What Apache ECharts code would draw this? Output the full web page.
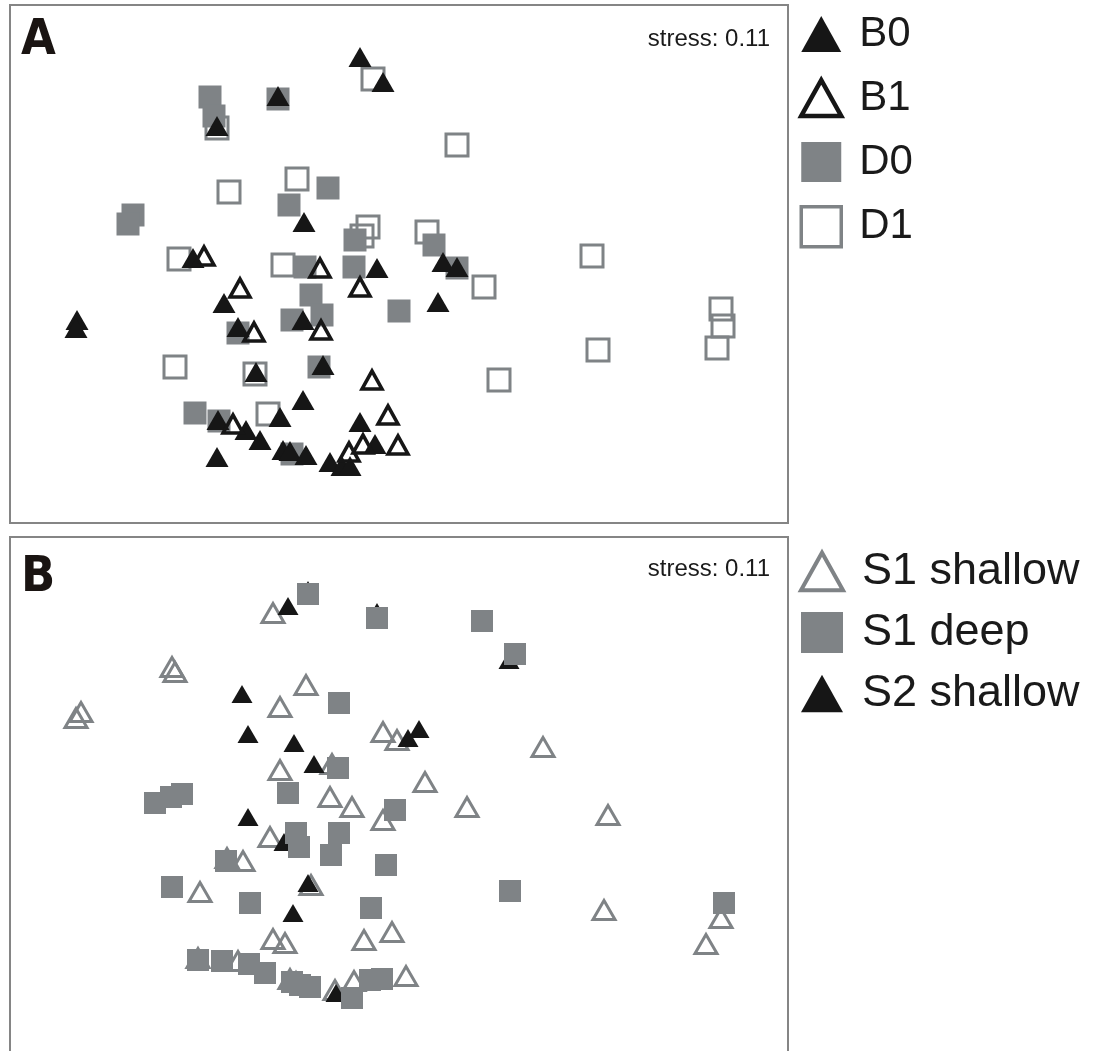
<!DOCTYPE html>
<html>
<head>
<meta charset="utf-8">
<title>NMDS ordination</title>
<script src="https://cdn.jsdelivr.net/npm/echarts@6/dist/echarts.min.js"></script>
<style>
  html, body { margin: 0; padding: 0; background: #ffffff; }
  #chart { width: 1097px; height: 1051px; }
</style>
</head>
<body>
<div id="chart"></div>
<script>
// ---- Panel A: ordination scores (NMDS1, NMDS2) per group ----
const b0 = [
  [-0.39, 2.07], [-0.16, 1.82], [-1.82, 1.38], [-1.21, 1.68], [-0.95, 0.42],
  [-2.06, 0.06], [0.44, 0.02], [0.58, -0.03], [-0.22, -0.04], [-1.75, -0.39],
  [-0.96, -0.56], [0.39, -0.38], [-3.22, -0.56], [-3.23, -0.64], [-1.61, -0.63],
  [-1.43, -1.08], [-0.76, -1.01], [-0.96, -1.36], [-1.81, -1.56], [-1.53, -1.66],
  [-1.19, -1.53], [-1.39, -1.76], [-1.82, -1.93], [-1.16, -1.86], [-1.09, -1.87],
  [-0.93, -1.91], [-0.69, -1.98], [-0.57, -2.02], [-0.49, -2.02], [-0.39, -1.58],
  [-0.24, -1.80]
];
const b1 = [
  [-1.95, 0.08], [-0.79, -0.04], [-0.39, -0.23], [-1.59, -0.24], [-1.45, -0.68],
  [-0.78, -0.66], [-0.27, -1.16], [-1.66, -1.60], [-0.11, -1.51], [-0.01, -1.81],
  [-0.36, -1.80], [-0.50, -1.88]
];
const d0 = [
  [-1.89, 1.67], [-1.85, 1.48], [-1.21, 1.65], [-0.71, 0.76], [-1.10, 0.59],
  [-2.66, 0.49], [-2.71, 0.40], [-0.44, 0.24], [0.35, 0.19], [0.58, -0.04],
  [-0.94, -0.03], [-0.45, -0.03], [-0.88, -0.31], [-1.07, -0.56], [-0.77, -0.51],
  [0.00, -0.47], [-1.61, -0.69], [-0.80, -1.03], [-2.04, -1.49], [-1.80, -1.57],
  [-1.07, -1.90]
];
const d1 = [
  [-0.26, 1.85], [-1.82, 1.36], [-1.70, 0.72], [-1.02, 0.85], [-0.31, 0.37],
  [-0.37, 0.28], [0.28, 0.32], [0.58, 1.19], [-2.20, 0.05], [-1.16, -0.01],
  [0.85, -0.23], [1.93, 0.08], [-2.24, -1.03], [-1.44, -1.10], [-1.31, -1.50],
  [3.22, -0.45], [3.24, -0.62], [3.18, -0.84], [1.99, -0.86], [1.00, -1.16]
];

// ---- Panel B: same ordination, grouped by site and depth ----
const s1Shallow = [
  [-1.26, 1.83], [-2.27, 1.29], [-2.24, 1.24], [-3.23, 0.78], [-3.18, 0.84],
  [-0.93, 1.11], [-1.19, 0.89], [-0.16, 0.64], [-0.02, 0.56], [-1.19, 0.26],
  [-0.67, 0.32], [0.26, 0.14], [-0.69, -0.01], [-0.47, -0.11], [-0.16, -0.24],
  [-1.29, -0.41], [-1.56, -0.65], [-1.72, -0.62], [-1.99, -0.96], [-0.88, -0.89],
  [-1.26, -1.43], [-1.14, -1.47], [-0.35, -1.44], [-0.07, -1.36], [0.07, -1.80],
  [0.68, -0.11], [2.09, -0.19], [2.05, -1.14], [3.22, -1.22], [3.07, -1.48],
  [1.44, 0.49], [-2.01, -1.62], [-1.61, -1.65], [-1.09, -1.83], [-1.03, -1.86],
  [-0.64, -1.94], [-0.45, -1.85]
];
const s1Deep = [
  [-0.91, 2.02], [-0.22, 1.78], [0.83, 1.75], [1.16, 1.42], [-0.60, 0.93],
  [-0.61, 0.28], [-1.11, 0.03], [-2.44, -0.07], [-2.28, -0.01], [-2.17, 0.02],
  [-0.04, -0.14], [-1.03, -0.37], [-1.00, -0.51], [-0.60, -0.37], [-0.68, -0.59],
  [-0.13, -0.69], [-1.73, -0.65], [-2.27, -0.91], [-1.49, -1.07], [-0.28, -1.12],
  [1.11, -0.95], [3.25, -1.07], [-2.01, -1.64], [-1.77, -1.65], [-1.50, -1.68],
  [-1.34, -1.77], [-1.07, -1.86], [-0.99, -1.89], [-0.89, -1.91], [-0.47, -2.02],
  [-0.29, -1.84], [-0.17, -1.83]
];
const s2Shallow = [
  [-1.11, 1.90], [-0.91, 2.06], [-0.22, 1.84], [-1.57, 1.02], [-1.51, 0.62],
  [-1.05, 0.53], [-0.85, 0.32], [0.09, 0.58], [0.20, 0.67], [1.10, 1.36],
  [-1.51, -0.21], [-1.15, -0.46], [-0.91, -0.87], [-1.06, -1.17], [-0.63, -1.97]
];

// ---- Text ----
const panelLabels = ['A', 'B'];
const stressLabel = 'stress: 0.11';
const legendA = ['B0', 'B1', 'D0', 'D1'];
const legendB = ['S1 shallow', 'S1 deep', 'S2 shallow'];

// ---- Styling ----
const BLACK = '#161616';
const GREY = '#7f8386';
const FRAME = '#858585';
const NONE = 'rgba(255,255,255,0)';
const FONT = "'Liberation Sans', Arial, Helvetica, sans-serif";
const LABEL_FONT = "'Liberation Sans Narrow', 'DejaVu Sans Condensed', " + FONT;
const TRI_ICON = 'path://M0,34L19,0L38,34Z';

const chart = echarts.init(document.getElementById('chart'), null, { renderer: 'canvas' });

function hiddenAxis(min, max, gridIndex) {
  return {
    type: 'value', gridIndex, min, max,
    show: false, splitLine: { show: false }
  };
}

function scatter(name, data, idx, symbol, size, fill, stroke, lw, z) {
  return {
    name, type: 'scatter', data,
    xAxisIndex: idx, yAxisIndex: idx,
    symbol, symbolSize: size,
    itemStyle: { color: fill, borderColor: stroke, borderWidth: lw, borderJoin: 'miter', opacity: 1 },
    emphasis: { disabled: true },
    silent: true, z
  };
}

const option = {
  animation: false,
  backgroundColor: '#ffffff',
  grid: [
    { left: 10, top: 5, width: 778, height: 518, outerBoundsMode: 'none',
      show: true, borderColor: FRAME, borderWidth: 2, backgroundColor: 'transparent' },
    // lower panel runs past the bottom edge of the page
    { left: 10, top: 537, width: 778, height: 518, outerBoundsMode: 'none',
      show: true, borderColor: FRAME, borderWidth: 2, backgroundColor: 'transparent' }
  ],
  xAxis: [hiddenAxis(-3.89, 3.89, 0), hiddenAxis(-3.89, 3.89, 1)],
  yAxis: [hiddenAxis(-2.59, 2.59, 0), hiddenAxis(-2.59, 2.59, 1)],
  title: [
    { text: panelLabels[0], left: 21, top: 16, padding: 0,
      textStyle: { fontFamily: LABEL_FONT, fontWeight: 'bold', fontSize: 50, lineHeight: 50, color: '#1a1412' } },
    { text: stressLabel, right: 327, top: 27, padding: 0,
      textStyle: { fontFamily: FONT, fontWeight: 'normal', fontSize: 24, lineHeight: 24, color: '#1a1a1a' } },
    { text: panelLabels[1], left: 21, top: 553, padding: 0,
      textStyle: { fontFamily: LABEL_FONT, fontWeight: 'bold', fontSize: 50, lineHeight: 50, color: '#1a1412' } },
    { text: stressLabel, right: 327, top: 557, padding: 0,
      textStyle: { fontFamily: FONT, fontWeight: 'normal', fontSize: 24, lineHeight: 24, color: '#1a1a1a' } }
  ],
  legend: [
    {
      orient: 'vertical', left: 799, top: 13, padding: 0,
      itemWidth: 40, itemHeight: 40, itemGap: 22,
      selectedMode: false,
      textStyle: { fontFamily: FONT, fontSize: 42, color: '#1a1a1a', padding: [0, 0, 0, 13] },
      data: [
        { name: legendA[0], icon: TRI_ICON, itemStyle: { color: BLACK, borderWidth: 0, opacity: 1 } },
        { name: legendA[1], icon: TRI_ICON, itemStyle: { color: NONE, borderColor: BLACK, borderWidth: 4.5, opacity: 1 } },
        { name: legendA[2], icon: 'rect', itemStyle: { color: GREY, borderWidth: 0, opacity: 1 } },
        { name: legendA[3], icon: 'rect', itemStyle: { color: NONE, borderColor: GREY, borderWidth: 3.5, opacity: 1 } }
      ]
    },
    {
      orient: 'vertical', left: 799, top: 549, padding: 0,
      itemWidth: 42, itemHeight: 41, itemGap: 16,
      selectedMode: false,
      textStyle: { fontFamily: FONT, fontSize: 45, color: '#1a1a1a', padding: [0, 0, 0, 14] },
      data: [
        { name: legendB[0], icon: TRI_ICON, itemStyle: { color: NONE, borderColor: GREY, borderWidth: 4, opacity: 1 } },
        { name: legendB[1], icon: 'rect', itemStyle: { color: GREY, borderWidth: 0, opacity: 1 } },
        { name: legendB[2], icon: TRI_ICON, itemStyle: { color: BLACK, borderWidth: 0, opacity: 1 } }
      ]
    }
  ],
  series: [
    // panel A, drawn back to front
    scatter(legendA[3], d1, 0, 'rect', 22, NONE, GREY, 3, 2),
    scatter(legendA[2], d0, 0, 'rect', 23, GREY, GREY, 0, 3),
    scatter(legendA[0], b0, 0, 'triangle', [23, 20], BLACK, BLACK, 0, 4),
    scatter(legendA[1], b1, 0, 'triangle', [20, 18], NONE, BLACK, 3.5, 5),
    // panel B
    scatter(legendB[0], s1Shallow, 1, 'triangle', [22, 19], NONE, GREY, 3, 2),
    scatter(legendB[2], s2Shallow, 1, 'triangle', [21, 18], BLACK, BLACK, 0, 3),
    scatter(legendB[1], s1Deep, 1, 'rect', 22, GREY, GREY, 0, 4)
  ]
};

chart.setOption(option);
</script>
</body>
</html>
